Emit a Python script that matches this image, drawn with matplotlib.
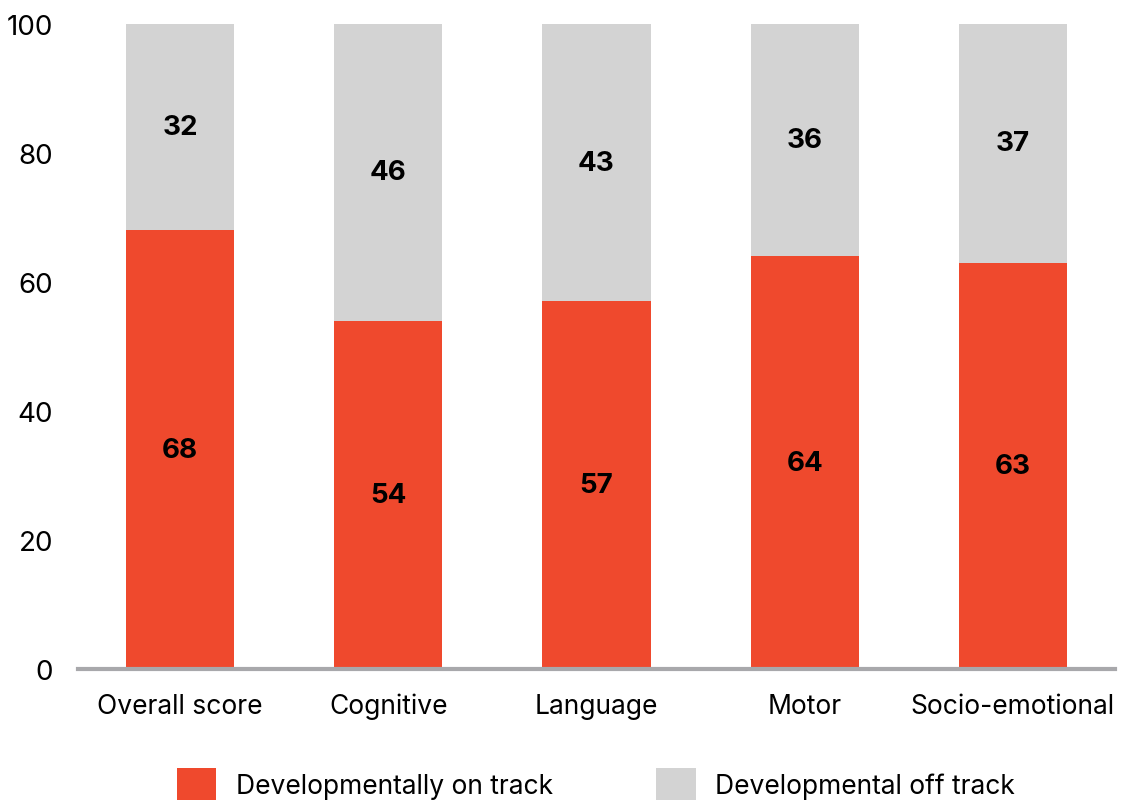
import matplotlib
matplotlib.use("Agg")
import matplotlib.pyplot as plt
import numpy as np

categories = ["Overall score", "Cognitive", "Language", "Motor", "Socio-emotional"]
on_track = [68, 54, 57, 64, 63]
off_track = [32, 46, 43, 36, 37]
y_ticks = [0, 20, 40, 60, 80, 100]
series_names = ["Developmentally on track", "Developmental off track"]

RED = "#EF492D"
GREY = "#D3D3D3"
AXIS = "#A8A8AB"

plt.rcParams["font.family"] = ["Inter", "DejaVu Sans"]

W, H = 1138, 803
fig = plt.figure(figsize=(W / 100, H / 100), dpi=100)
ax = fig.add_axes([78 / W, 1 - 670 / H, (1115 - 78) / W, (670 - 25) / H])

x = np.arange(len(categories))
width = 0.52
b1 = ax.bar(x, on_track, width, color=RED, label=series_names[0], clip_on=False)
b2 = ax.bar(x, off_track, width, bottom=on_track, color=GREY,
            label=series_names[1], clip_on=False)

for xi, a, b in zip(x, on_track, off_track):
    ax.text(xi, a / 2, f"{a}", ha="center", va="center", fontsize=20,
            fontweight="bold", color="black")
    ax.text(xi, a + b / 2, f"{b}", ha="center", va="center", fontsize=20,
            fontweight="bold", color="black")

ax.set_xlim(-0.49, len(categories) - 0.51)
ax.set_ylim(0, 100)
ax.set_yticks(y_ticks)
ax.set_yticklabels([str(t) for t in y_ticks], fontsize=20)
ax.set_xticks(x)
ax.set_xticklabels(categories, fontsize=19)
ax.tick_params(axis="y", length=0, pad=18)
ax.tick_params(axis="x", length=0, pad=17)

for s in ["top", "right", "left"]:
    ax.spines[s].set_visible(False)
ax.spines["bottom"].set_color(AXIS)
ax.spines["bottom"].set_linewidth(3)

fig.legend(handles=[b1, b2], labels=series_names, loc="center",
           bbox_to_anchor=(596 / W, 1 - 785 / H), ncol=2, frameon=False,
           fontsize=19, handlelength=1.5, handleheight=1.5,
           handletextpad=0.75, columnspacing=3.9)

fig.savefig("out.png", dpi=100)
